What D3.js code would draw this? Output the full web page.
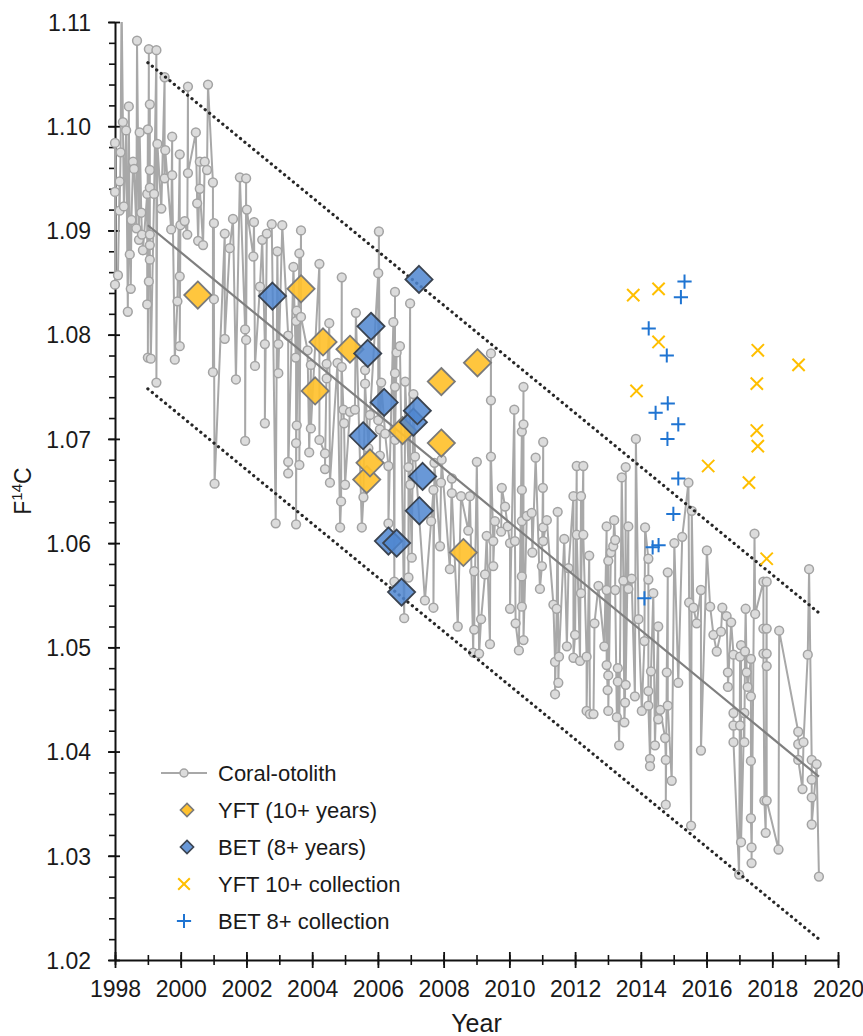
<!DOCTYPE html>
<html>
<head>
<meta charset="utf-8">
<script src="https://cdn.jsdelivr.net/npm/d3@7"></script>
<style>
  body { margin: 0; background: #fff; }
  svg { display: block; }
  text { font-family: "Liberation Sans", Arial, sans-serif; fill: #1a1a1a; }
</style>
</head>
<body>
<svg id="chart" width="863" height="1036"></svg>
<script>
// Coral-otolith reference series: [year, F14C]
const coral = [
  [1998.00,1.0984],[1998.00,1.0937],[1998.00,1.0848],[1998.09,1.0857],[1998.14,1.0947],[1998.14,1.0919],
  [1998.17,1.0975],[1998.20,1.1125],[1998.24,1.1004],[1998.27,1.0923],[1998.34,1.0996],[1998.39,1.0822],
  [1998.42,1.1019],[1998.45,1.0877],[1998.48,1.0844],[1998.50,1.0910],[1998.55,1.0966],[1998.58,1.0959],
  [1998.65,1.0902],[1998.67,1.1082],[1998.73,1.0891],[1998.75,1.0994],[1998.80,1.0917],[1998.82,1.0896],
  [1998.85,1.0881],[1998.98,1.0935],[1998.98,1.0829],[1999.00,1.0997],[1999.00,1.0778],[1999.03,1.1074],
  [1999.03,1.0851],[1999.06,1.1021],[1999.06,1.0958],[1999.06,1.0941],[1999.06,1.0896],[1999.06,1.0886],
  [1999.06,1.0872],[1999.09,1.0777],[1999.19,1.0935],[1999.26,1.1073],[1999.26,1.0754],[1999.29,1.0983],
  [1999.41,1.0921],[1999.51,1.1047],[1999.51,1.0950],[1999.53,1.0977],[1999.71,1.0901],[1999.74,1.0990],
  [1999.74,1.0953],[1999.82,1.0776],[1999.90,1.0832],[1999.97,1.0973],[1999.97,1.0856],[1999.97,1.0789],
  [1999.99,1.0905],[2000.12,1.0909],[2000.20,1.0896],[2000.22,1.1038],[2000.22,1.0955],[2000.46,1.0994],
  [2000.50,1.0926],[2000.53,1.0890],[2000.58,1.0966],[2000.58,1.0940],[2000.68,1.0886],[2000.73,1.0966],
  [2000.80,1.0958],[2000.83,1.1040],[2000.98,1.0946],[2000.98,1.0764],[2001.01,1.0907],[2001.01,1.0834],
  [2001.03,1.0657],[2001.34,1.0897],[2001.34,1.0796],[2001.49,1.0883],[2001.59,1.0911],[2001.68,1.0757],
  [2001.80,1.0951],[2001.96,1.0805],[2001.96,1.0698],[2001.99,1.0950],[2001.99,1.0795],[2002.01,1.0920],
  [2002.21,1.0875],[2002.23,1.0908],[2002.26,1.0770],[2002.41,1.0846],[2002.48,1.0891],[2002.56,1.0791],
  [2002.56,1.0715],[2002.62,1.0897],[2002.77,1.0906],[2002.89,1.0619],[2002.94,1.0880],[2002.97,1.0791],
  [2002.97,1.0763],[2003.09,1.0905],[2003.27,1.0799],[2003.27,1.0678],[2003.27,1.0667],[2003.43,1.0865],
  [2003.50,1.0778],[2003.51,1.0813],[2003.51,1.0696],[2003.51,1.0618],[2003.53,1.0823],[2003.53,1.0713],
  [2003.61,1.0878],[2003.61,1.0675],[2003.66,1.0900],[2003.66,1.0817],[2003.86,1.0785],[2003.91,1.0687],
  [2003.96,1.0771],[2003.96,1.0710],[2004.22,1.0868],[2004.22,1.0699],[2004.39,1.0686],[2004.39,1.0671],
  [2004.44,1.0772],[2004.44,1.0758],[2004.52,1.0811],[2004.54,1.0658],[2004.77,1.0773],[2004.85,1.0615],
  [2004.88,1.0640],[2004.90,1.0855],[2004.90,1.0769],[2004.95,1.0728],[2004.97,1.0715],[2005.00,1.0656],
  [2005.15,1.0726],[2005.30,1.0728],[2005.33,1.0821],[2005.51,1.0615],[2005.56,1.0644],[2005.61,1.0766],
  [2005.61,1.0753],[2005.71,1.0691],[2005.76,1.0723],[2006.01,1.0859],[2006.01,1.0718],[2006.03,1.0899],
  [2006.06,1.0709],[2006.06,1.0684],[2006.10,1.0754],[2006.22,1.0705],[2006.32,1.0674],[2006.32,1.0619],
  [2006.47,1.0812],[2006.50,1.0563],[2006.52,1.0841],[2006.52,1.0763],[2006.52,1.0750],[2006.52,1.0699],
  [2006.57,1.0783],[2006.67,1.0789],[2006.80,1.0528],[2006.83,1.0755],[2006.93,1.0673],[2006.93,1.0567],
  [2006.98,1.0830],[2006.98,1.0656],[2007.03,1.0586],[2007.08,1.0743],[2007.13,1.0683],[2007.43,1.0545],
  [2007.62,1.0621],[2007.69,1.0651],[2007.69,1.0538],[2007.72,1.0677],[2007.89,1.0597],[2007.92,1.0658],
  [2007.94,1.0680],[2008.19,1.0575],[2008.25,1.0662],[2008.25,1.0648],[2008.43,1.0520],[2008.53,1.0645],
  [2008.75,1.0612],[2008.80,1.0645],[2008.90,1.0495],[2008.93,1.0573],[2008.93,1.0517],[2009.01,1.0678],
  [2009.08,1.0494],[2009.14,1.0527],[2009.26,1.0570],[2009.31,1.0607],[2009.41,1.0503],[2009.44,1.0782],
  [2009.44,1.0737],[2009.44,1.0683],[2009.51,1.0602],[2009.51,1.0578],[2009.56,1.0621],[2009.75,1.0611],
  [2009.77,1.0653],[2009.87,1.0635],[2009.95,1.0616],[2010.02,1.0600],[2010.02,1.0537],[2010.15,1.0728],
  [2010.17,1.0602],[2010.19,1.0523],[2010.29,1.0497],[2010.38,1.0707],[2010.38,1.0651],[2010.38,1.0621],
  [2010.38,1.0568],[2010.38,1.0539],[2010.43,1.0750],[2010.43,1.0714],[2010.43,1.0507],[2010.53,1.0626],
  [2010.68,1.0629],[2010.70,1.0591],[2010.80,1.0682],[2010.93,1.0556],[2010.99,1.0578],[2011.02,1.0653],
  [2011.03,1.0697],[2011.03,1.0615],[2011.03,1.0602],[2011.14,1.0622],[2011.34,1.0541],[2011.39,1.0486],
  [2011.39,1.0455],[2011.44,1.0537],[2011.47,1.0630],[2011.49,1.0466],[2011.51,1.0491],[2011.67,1.0604],
  [2011.75,1.0501],[2011.80,1.0576],[2011.95,1.0645],[2011.95,1.0490],[2012.00,1.0512],[2012.05,1.0674],
  [2012.05,1.0608],[2012.15,1.0487],[2012.18,1.0645],[2012.18,1.0552],[2012.25,1.0674],[2012.25,1.0608],
  [2012.35,1.0491],[2012.35,1.0439],[2012.43,1.0588],[2012.45,1.0436],[2012.56,1.0436],[2012.59,1.0523],
  [2012.71,1.0559],[2012.89,1.0501],[2012.96,1.0616],[2012.96,1.0555],[2012.96,1.0483],[2012.99,1.0459],
  [2013.01,1.0583],[2013.01,1.0473],[2013.01,1.0439],[2013.09,1.0591],[2013.16,1.0597],[2013.19,1.0622],
  [2013.22,1.0603],[2013.22,1.0555],[2013.27,1.0433],[2013.30,1.0480],[2013.30,1.0467],[2013.34,1.0406],
  [2013.42,1.0663],[2013.47,1.0564],[2013.50,1.0428],[2013.52,1.0447],[2013.54,1.0673],[2013.54,1.0464],
  [2013.62,1.0616],[2013.62,1.0556],[2013.72,1.0566],[2013.82,1.0453],[2013.85,1.0700],[2013.93,1.0527],
  [2014.03,1.0439],[2014.11,1.0506],[2014.13,1.0615],[2014.23,1.0585],[2014.23,1.0565],[2014.23,1.0458],
  [2014.23,1.0444],[2014.28,1.0393],[2014.28,1.0386],[2014.31,1.0477],[2014.38,1.0552],[2014.43,1.0406],
  [2014.53,1.0520],[2014.53,1.0431],[2014.59,1.0440],[2014.74,1.0413],[2014.76,1.0392],[2014.76,1.0349],
  [2014.79,1.0476],[2014.82,1.0572],[2014.82,1.0444],[2014.94,1.0372],[2015.02,1.0600],[2015.14,1.0466],
  [2015.26,1.0606],[2015.45,1.0658],[2015.47,1.0543],[2015.53,1.0329],[2015.55,1.0631],[2015.60,1.0538],
  [2015.70,1.0523],[2015.83,1.0555],[2015.83,1.0401],[2016.01,1.0593],[2016.11,1.0539],[2016.21,1.0512],
  [2016.31,1.0496],[2016.44,1.0515],[2016.48,1.0538],[2016.61,1.0530],[2016.65,1.0476],[2016.65,1.0462],
  [2016.75,1.0524],[2016.82,1.0493],[2016.82,1.0437],[2016.82,1.0425],[2016.82,1.0409],[2016.99,1.0282],
  [2017.02,1.0491],[2017.02,1.0425],[2017.05,1.0502],[2017.05,1.0313],[2017.15,1.0437],[2017.15,1.0409],
  [2017.17,1.0496],[2017.19,1.0537],[2017.22,1.0476],[2017.25,1.0462],[2017.35,1.0489],[2017.35,1.0453],
  [2017.35,1.0391],[2017.35,1.0336],[2017.37,1.0308],[2017.37,1.0293],[2017.46,1.0609],[2017.48,1.0532],
  [2017.73,1.0563],[2017.73,1.0518],[2017.73,1.0494],[2017.76,1.0353],[2017.80,1.0322],[2017.83,1.0563],
  [2017.83,1.0518],[2017.83,1.0494],[2017.83,1.0482],[2017.83,1.0353],[2018.19,1.0306],[2018.21,1.0516],
  [2018.79,1.0419],[2018.79,1.0407],[2018.79,1.0392],[2018.92,1.0364],[2018.95,1.0409],[2019.08,1.0493],
  [2019.12,1.0575],[2019.20,1.0392],[2019.20,1.0373],[2019.20,1.0356],[2019.20,1.0330],[2019.35,1.0388],
  [2019.42,1.0280]
];

// Fitted decline and its prediction band (endpoints)
const trendYears = [1999.0, 2019.42];
const trendMid   = [1.0905, 1.0376];
const trendUpper = [1.1061, 1.0533];
const trendLower = [1.0748, 1.0220];

// Yellowfin tuna (10+ years), birth-year estimates
const yftYear = [2000.52, 2003.66, 2004.09, 2004.33, 2005.15, 2005.66, 2005.76, 2006.75, 2007.93, 2007.93, 2008.60, 2009.03];
const yftF14C = [1.0838, 1.0844, 1.0746, 1.0793, 1.0786, 1.0661, 1.0677, 1.0708, 1.0755, 1.0696, 1.0591, 1.0773];

// Bigeye tuna (8+ years), birth-year estimates
const betYear = [2002.79, 2005.55, 2005.69, 2005.79, 2006.19, 2006.32, 2006.57, 2006.72, 2007.08, 2007.20, 2007.25, 2007.26, 2007.36];
const betF14C = [1.0837, 1.0703, 1.0782, 1.0808, 1.0735, 1.0602, 1.0600, 1.0553, 1.0716, 1.0727, 1.0853, 1.0631, 1.0664];

// Values plotted at collection year
const yftColYear = [2013.77, 2013.87, 2014.54, 2014.54, 2016.05, 2017.29, 2017.53, 2017.53, 2017.56, 2017.56, 2017.83, 2018.80];
const yftColF14C = [1.0838, 1.0746, 1.0844, 1.0793, 1.0674, 1.0658, 1.0753, 1.0708, 1.0785, 1.0693, 1.0585, 1.0771];
const betColYear = [2014.11, 2014.24, 2014.36, 2014.45, 2014.54, 2014.79, 2014.81, 2014.82, 2014.99, 2015.14, 2015.14, 2015.22, 2015.33];
const betColF14C = [1.0547, 1.0806, 1.0596, 1.0725, 1.0598, 1.0780, 1.0700, 1.0734, 1.0628, 1.0714, 1.0662, 1.0836, 1.0851];

// Axis ticks
const xMajorTicks = d3.range(1998, 2021, 2);
const xMinorTicks = d3.range(1998, 2021, 1);
const yMajorTicks = [1.02, 1.03, 1.04, 1.05, 1.06, 1.07, 1.08, 1.09, 1.10, 1.11];
const yMinorTicks = d3.range(0, 46).map(i => 1.02 + i * 0.002);

const legendItems = ["Coral-otolith", "YFT (10+ years)", "BET (8+ years)", "YFT 10+ collection", "BET 8+ collection"];

// ---------------------------------------------------------------
const svg = d3.select("#chart");
const x = d3.scaleLinear().domain([1998, 2020]).range([115, 838]);
const y = d3.scaleLinear().domain([1.02, 1.11]).range([960, 22]);

const COL = {
  coralLine: "#a8a8a8", coralFill: "#dcdcdc", coralStroke: "#a3a3a3",
  trend: "#7f7f7f", band: "#262626",
  yft: "#ffc12e", yftStroke: "#7a7a7a",
  bet: "#4f86d0", betStroke: "#3a4350",
  yftCol: "#ffbf00", betCol: "#1f74d2"
};

svg.append("defs").append("clipPath").attr("id", "plotClip")
  .append("rect").attr("x", 0).attr("y", y(1.11)).attr("width", 863).attr("height", y(1.02) - y(1.11) + 30);

// Axes ------------------------------------------------------------
const gx = svg.append("g").attr("transform", `translate(0,${y(1.02)})`);
gx.append("g")
  .call(d3.axisBottom(x).tickValues(xMinorTicks).tickSizeOuter(0).tickFormat(""))
  .call(g => g.select(".domain").attr("stroke", "#111").attr("stroke-width", 2))
  .call(g => g.selectAll(".tick line").attr("y1", -5).attr("y2", 5).attr("stroke", "#111").attr("stroke-width", 1.6));
gx.append("g")
  .call(d3.axisBottom(x).tickValues(xMajorTicks).tickSizeOuter(0).tickFormat(d3.format("d")))
  .call(g => g.select(".domain").remove())
  .call(g => g.selectAll(".tick line").attr("y1", -8).attr("y2", 8).attr("stroke", "#111").attr("stroke-width", 1.8))
  .call(g => g.selectAll(".tick text").attr("y", 37).attr("dy", 0).attr("font-size", 23).attr("fill", "#1a1a1a"));

const gy = svg.append("g").attr("transform", `translate(${x(1998)},0)`);
gy.append("g")
  .call(d3.axisLeft(y).tickValues(yMinorTicks).tickSizeOuter(0).tickFormat(""))
  .call(g => g.select(".domain").attr("stroke", "#111").attr("stroke-width", 2))
  .call(g => g.selectAll(".tick line").attr("x1", -6).attr("x2", 0).attr("stroke", "#111").attr("stroke-width", 1.6));
gy.append("g")
  .call(d3.axisLeft(y).tickValues(yMajorTicks).tickSizeOuter(0).tickFormat(d3.format(".2f")))
  .call(g => g.select(".domain").remove())
  .call(g => g.selectAll(".tick line").attr("x1", -7).attr("x2", 5).attr("stroke", "#111").attr("stroke-width", 1.8))
  .call(g => g.selectAll(".tick text").attr("x", -24).attr("dy", "0.36em").attr("font-size", 23).attr("fill", "#1a1a1a"));

// Axis titles
svg.append("text").attr("x", x(2009)).attr("y", 1032).attr("text-anchor", "middle")
  .attr("font-size", 25).text("Year");
const yt = svg.append("text").attr("transform", `translate(31,${y(1.065)}) rotate(-90)`)
  .attr("text-anchor", "middle").attr("font-size", 23);
yt.append("tspan").text("F");
yt.append("tspan").attr("font-size", 15).attr("dy", -9).text("14");
yt.append("tspan").attr("dy", 9).text("C");

// Data ------------------------------------------------------------
const plot = svg.append("g").attr("clip-path", "url(#plotClip)");
const coralSorted = d3.sort(coral, d => d[0]);

plot.append("path").datum(coralSorted)
  .attr("fill", "none").attr("stroke", COL.coralLine).attr("stroke-width", 2).attr("stroke-linejoin", "round")
  .attr("d", d3.line().x(d => x(d[0])).y(d => y(d[1])));
plot.append("g").selectAll("circle").data(coralSorted).join("circle")
  .attr("cx", d => x(d[0])).attr("cy", d => y(d[1])).attr("r", 4.4)
  .attr("fill", COL.coralFill).attr("stroke", COL.coralStroke).attr("stroke-width", 1.5);

// Trend and prediction band
const seg = vals => trendYears.map((t, i) => [t, vals[i]]);
const lineGen = d3.line().x(d => x(d[0])).y(d => y(d[1]));
plot.append("path").datum(seg(trendMid)).attr("d", lineGen)
  .attr("fill", "none").attr("stroke", COL.trend).attr("stroke-width", 2.2);
[trendUpper, trendLower].forEach(v => {
  plot.append("path").datum(seg(v)).attr("d", lineGen)
    .attr("fill", "none").attr("stroke", COL.band).attr("stroke-width", 3.2)
    .attr("stroke-linecap", "round").attr("stroke-dasharray", "0.1 5.6");
});

// Tuna diamonds
const diamond = d3.symbol(d3.symbolDiamond2, 470);
plot.append("g").selectAll("path").data(d3.zip(yftYear, yftF14C)).join("path")
  .attr("transform", d => `translate(${x(d[0])},${y(d[1])})`).attr("d", diamond)
  .attr("fill", COL.yft).attr("fill-opacity", 0.92).attr("stroke", COL.yftStroke).attr("stroke-width", 1.8);
plot.append("g").selectAll("path").data(d3.zip(betYear, betF14C)).join("path")
  .attr("transform", d => `translate(${x(d[0])},${y(d[1])})`).attr("d", diamond)
  .attr("fill", COL.bet).attr("fill-opacity", 0.85).attr("stroke", COL.betStroke).attr("stroke-width", 1.8);

// Collection-year markers
plot.append("g").selectAll("path").data(d3.zip(yftColYear, yftColF14C)).join("path")
  .attr("transform", d => `translate(${x(d[0])},${y(d[1])})`).attr("d", d3.symbol(d3.symbolTimes, 100))
  .attr("fill", "none").attr("stroke", COL.yftCol).attr("stroke-width", 2);
plot.append("g").selectAll("path").data(d3.zip(betColYear, betColF14C)).join("path")
  .attr("transform", d => `translate(${x(d[0])},${y(d[1])})`).attr("d", d3.symbol(d3.symbolPlus, 68))
  .attr("fill", "none").attr("stroke", COL.betCol).attr("stroke-width", 2);

// Legend ------------------------------------------------------------
const lg = svg.append("g").attr("transform", "translate(184,773)");
const rowH = 37;
const rows = lg.selectAll("g").data(legendItems).join("g")
  .attr("transform", (d, i) => `translate(0,${i * rowH})`);
rows.append("text").attr("x", 34).attr("dy", "0.36em").attr("font-size", 22).text(d => d);
const r0 = rows.filter((d, i) => i === 0);
r0.append("line").attr("x1", -23).attr("x2", 23).attr("stroke", COL.coralLine).attr("stroke-width", 2);
r0.append("circle").attr("r", 4).attr("fill", COL.coralFill).attr("stroke", COL.coralStroke).attr("stroke-width", 1.5);
const smallDiamond = d3.symbol(d3.symbolDiamond2, 110);
rows.filter((d, i) => i === 1).append("path").attr("d", smallDiamond).attr("transform", "translate(3,0)")
  .attr("fill", COL.yft).attr("stroke", COL.yftStroke).attr("stroke-width", 1.6);
rows.filter((d, i) => i === 2).append("path").attr("d", smallDiamond).attr("transform", "translate(3,0)")
  .attr("fill", COL.bet).attr("fill-opacity", 0.85).attr("stroke", COL.betStroke).attr("stroke-width", 1.6);
rows.filter((d, i) => i === 3).append("path").attr("d", d3.symbol(d3.symbolTimes, 90))
  .attr("fill", "none").attr("stroke", COL.yftCol).attr("stroke-width", 2);
rows.filter((d, i) => i === 4).append("path").attr("d", d3.symbol(d3.symbolPlus, 68))
  .attr("fill", "none").attr("stroke", COL.betCol).attr("stroke-width", 2);
</script>
</body>
</html>
